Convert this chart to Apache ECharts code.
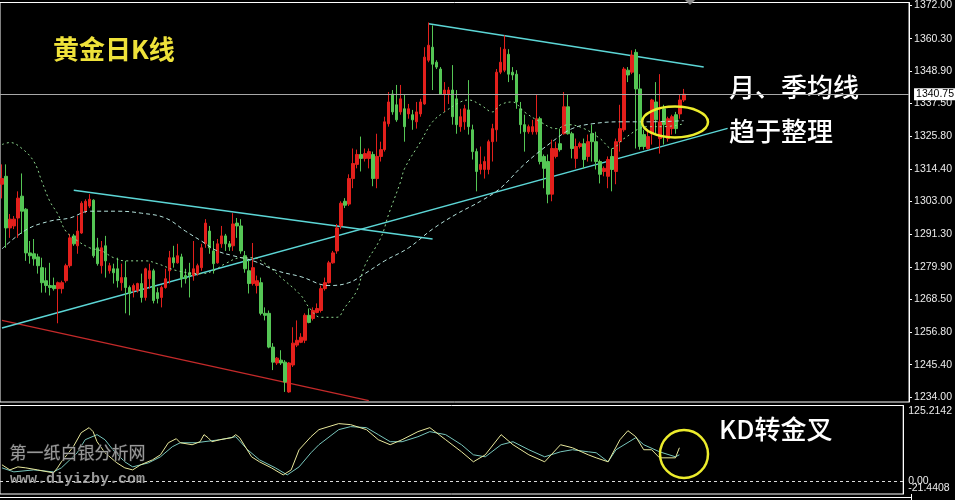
<!DOCTYPE html>
<html><head><meta charset="utf-8">
<script src="https://cdn.jsdelivr.net/npm/echarts@6/dist/echarts.min.js"></script>
<style>html,body{margin:0;padding:0;background:#000}#c{width:955px;height:500px}</style>
</head><body><div id="c"></div>
<script>
// [open, close, low, high]
const candles = [
[1309.0,1311.0,1304.0,1316.0],[1311.8,1293.6,1286.6,1316.0],[1293.6,1296.7,1290.1,1298.5],[1294.3,1296.7,1293.2,1297.8],[1297.1,1304.1,1290.1,1306.5],
[1304.8,1299.5,1291.5,1312.8],[1300.2,1284.8,1282.0,1300.6],[1284.8,1283.8,1281.0,1289.0],[1284.5,1282.7,1280.3,1289.7],[1283.4,1280.3,1277.5,1284.5],
[1279.6,1274.3,1270.8,1283.1],[1275.0,1273.3,1270.8,1279.6],[1273.3,1272.6,1269.8,1281.3],[1273.3,1272.2,1271.5,1276.1],[1272.2,1274.3,1260.0,1274.7],
[1272.2,1274.3,1270.5,1275.0],[1275.0,1280.3,1274.3,1281.0],[1280.3,1290.1,1279.6,1291.5],[1290.8,1288.0,1287.3,1291.5],[1287.3,1292.5,1284.5,1297.8],
[1291.8,1302.3,1291.5,1303.0],[1299.5,1303.0,1298.8,1303.7],[1301.3,1303.7,1300.6,1305.5],[1303.4,1283.8,1283.1,1303.7],[1286.6,1281.0,1280.3,1290.1],
[1280.3,1286.6,1277.5,1289.0],[1287.3,1282.0,1276.1,1290.8],[1278.5,1280.3,1277.5,1281.3],[1279.2,1277.8,1274.0,1281.0],[1279.2,1275.0,1272.6,1283.1],
[1274.3,1276.1,1271.5,1281.0],[1276.1,1272.6,1263.5,1282.0],[1272.6,1270.5,1262.8,1273.3],[1271.5,1273.3,1269.1,1274.0],[1271.5,1274.0,1270.8,1274.3],
[1274.0,1269.1,1267.3,1277.5],[1269.1,1279.2,1268.0,1279.6],[1275.7,1278.5,1272.2,1281.0],[1278.5,1268.0,1267.0,1279.2],[1270.8,1268.7,1267.0,1272.6],
[1269.1,1272.6,1265.6,1273.3],[1272.6,1275.7,1272.2,1279.2],[1278.5,1283.1,1274.0,1285.5],[1283.1,1281.3,1279.6,1287.3],[1281.3,1283.8,1281.0,1288.0],
[1283.4,1275.7,1272.6,1284.5],[1276.8,1275.7,1274.0,1279.2],[1277.8,1276.8,1269.1,1281.3],[1276.8,1279.2,1275.0,1289.0],[1277.5,1280.3,1276.8,1281.0],
[1279.6,1286.6,1278.5,1288.0],[1288.0,1295.3,1286.6,1296.7],[1292.5,1286.6,1284.5,1294.3],[1285.5,1281.0,1277.5,1289.0],[1281.3,1288.0,1281.0,1289.7],
[1288.0,1290.8,1286.6,1294.3],[1290.8,1288.0,1285.5,1291.5],[1288.0,1286.9,1285.5,1289.0],[1287.3,1295.0,1285.5,1298.8],[1295.3,1294.3,1290.1,1297.1],
[1294.3,1285.5,1284.5,1296.7],[1283.8,1279.2,1277.8,1285.5],[1278.5,1274.0,1270.5,1282.7],[1274.0,1279.6,1273.3,1288.3],[1273.3,1275.0,1270.5,1276.8],
[1274.3,1263.5,1262.8,1276.1],[1263.5,1262.8,1261.0,1265.6],[1263.5,1251.6,1251.2,1264.5],[1251.6,1246.3,1243.5,1253.0],[1246.0,1247.7,1245.3,1248.1],
[1247.0,1246.0,1245.3,1250.5],[1246.3,1239.3,1235.8,1247.0],[1235.8,1246.0,1235.5,1246.3],[1245.3,1253.0,1244.6,1258.6],[1252.3,1254.0,1251.6,1261.0],
[1253.3,1255.1,1253.0,1256.5],[1254.0,1262.8,1253.0,1263.5],[1262.8,1260.3,1260.0,1265.2],[1261.7,1264.5,1261.0,1265.6],[1263.8,1265.2,1263.5,1267.0],
[1264.5,1272.2,1263.8,1273.3],[1272.2,1274.3,1271.5,1276.1],[1274.3,1281.3,1274.0,1282.0],[1281.3,1284.8,1281.0,1285.5],[1285.5,1293.6,1284.5,1295.0],
[1294.3,1302.3,1293.2,1303.0],[1303.0,1301.6,1300.6,1304.1],[1302.0,1311.0,1301.3,1312.5],[1311.0,1316.3,1307.6,1321.6],[1316.0,1319.5,1314.6,1321.2],
[1319.5,1318.1,1313.5,1325.8],[1318.1,1319.8,1317.0,1321.6],[1318.1,1320.5,1314.6,1321.6],[1319.5,1311.0,1308.3,1320.5],[1311.0,1318.8,1307.6,1326.8],
[1318.8,1321.2,1317.0,1324.0],[1321.2,1331.0,1320.5,1332.8],[1330.3,1338.0,1329.3,1341.5],[1340.8,1334.5,1333.5,1342.2],[1337.0,1331.7,1331.0,1344.0],
[1334.5,1339.1,1333.5,1344.0],[1335.6,1329.3,1324.0,1340.5],[1333.8,1335.6,1332.1,1337.3],[1333.5,1331.7,1328.2,1335.2],[1331.0,1334.5,1328.6,1338.0],
[1333.8,1338.0,1332.8,1339.1],[1337.3,1353.8,1337.0,1357.3],[1352.7,1358.0,1352.0,1366.0],[1357.3,1351.3,1342.2,1365.0],[1352.0,1350.3,1349.6,1352.7],
[1349.6,1340.8,1340.5,1350.3],[1340.8,1342.2,1334.5,1345.0],[1340.8,1342.2,1337.3,1343.3],[1342.2,1332.8,1330.0,1351.0],[1339.1,1330.0,1326.8,1342.2],
[1329.3,1332.8,1327.5,1335.6],[1331.0,1335.6,1328.2,1337.0],[1335.2,1329.3,1326.5,1345.7],[1328.2,1320.5,1317.7,1330.0],[1320.5,1313.5,1306.5,1321.6],
[1314.2,1316.0,1312.5,1322.3],[1314.2,1317.0,1311.0,1318.8],[1314.2,1324.0,1312.5,1324.7],[1324.0,1328.6,1317.0,1330.3],[1328.2,1348.5,1324.0,1349.6],
[1348.5,1352.0,1347.8,1357.3],[1349.2,1356.6,1348.5,1361.5],[1354.8,1347.8,1345.0,1356.6],[1348.5,1347.5,1345.7,1350.3],[1347.8,1338.0,1335.6,1349.2],
[1335.6,1330.0,1326.8,1338.0],[1330.0,1327.5,1320.5,1333.5],[1327.5,1329.3,1326.8,1330.0],[1327.5,1329.3,1326.5,1331.7],[1327.5,1332.1,1326.5,1340.8],
[1332.1,1317.0,1316.0,1332.8],[1318.8,1314.6,1307.6,1319.5],[1317.0,1305.5,1302.3,1319.5],[1305.5,1321.6,1303.0,1324.7],[1318.8,1321.6,1318.1,1324.0],
[1323.3,1321.2,1320.5,1328.6],[1326.8,1336.3,1326.5,1341.5],[1336.3,1326.8,1326.5,1340.5],[1326.8,1321.6,1318.1,1327.5],[1318.1,1322.3,1314.6,1325.1],
[1322.3,1323.3,1321.6,1324.0],[1323.3,1317.7,1314.6,1325.1],[1318.8,1324.0,1317.0,1326.5],[1326.8,1324.0,1317.0,1330.0],[1324.0,1317.0,1314.2,1327.5],
[1317.0,1312.5,1309.3,1317.7],[1313.5,1314.6,1311.8,1315.3],[1311.8,1317.7,1307.6,1318.8],[1318.8,1314.2,1306.5,1321.6],[1313.5,1324.0,1309.0,1325.1],
[1324.0,1328.6,1320.5,1337.0],[1328.2,1349.6,1327.5,1350.3],[1349.2,1347.5,1345.0,1350.3],[1348.5,1354.5,1347.8,1356.2],[1355.5,1342.6,1321.6,1356.6],
[1342.6,1322.3,1321.2,1347.8],[1326.5,1322.3,1321.2,1328.2],[1321.6,1325.8,1321.2,1328.2],[1326.8,1338.7,1323.0,1339.1],[1338.0,1331.7,1326.5,1345.0],
[1325.1,1331.0,1319.8,1347.8],[1335.6,1330.0,1323.0,1337.0],[1325.1,1332.1,1324.0,1332.8],[1328.6,1332.8,1326.5,1333.5],[1333.5,1328.6,1326.8,1334.5],
[1333.8,1338.7,1332.1,1340.5],[1338.7,1340.75,1338.0,1342.6]
];
// [bar index, value]
const monthlyMA = [[0,1323.0],[2,1323.7],[5,1321.6],[8,1317.0],[10,1310.0],[12,1303.0],[14,1298.5],[16,1292.5],[19,1289.0],[22,1286.6],[25,1285.5],[28,1283.1],[31,1282.0],[36,1282.0],[39,1281.0],[44,1278.5],[50,1277.5],[53,1278.5],[56,1281.0],[60,1283.1],[63,1283.1],[66,1281.0],[70,1276.1],[75,1269.8],[77,1265.6],[80,1262.1],[84,1262.1],[86,1265.6],[89,1271.5],[91,1280.3],[95,1290.1],[97,1298.5],[100,1310.0],[101,1314.6],[105,1324.0],[108,1331.0],[111,1334.5],[115,1338.0],[117,1338.7],[120,1337.0],[123,1334.5],[125,1337.0],[128,1338.0],[131,1334.5],[135,1331.0],[139,1328.6],[142,1330.0],[146,1328.6],[150,1325.1],[153,1321.6],[156,1325.1],[162,1329.3],[166,1329.3],[171,1330.3]];
const quarterlyMA = [[0,1286.2],[6,1292.9],[12,1296.0],[17,1297.1],[22,1299.5],[29,1299.5],[35,1298.8],[41,1297.1],[46,1292.5],[50,1289.0],[54,1285.5],[58,1283.8],[63,1282.0],[69,1278.5],[75,1276.4],[82,1273.3],[87,1274.3],[91,1277.5],[96,1282.0],[102,1286.6],[108,1293.2],[114,1298.5],[120,1303.0],[125,1307.6],[131,1316.0],[138,1324.0],[143,1328.6],[148,1330.3],[155,1331.0],[162,1331.0],[171,1331.4]];
const trendTop = [[107,1365.6],[176,1350.3]];
const trendUpperLeft = [[18,1306.9],[108,1289.7]];
const trendSupport = [[0,1258.3],[182,1328.7]];
const trendRed = [[0,1261.0],[92,1232.7]];
const kLine = [[0,26.9],[2,18.5],[4,23.5],[6,21.9],[9,18.5],[13,13.5],[14,21.9],[15,31.9],[18,56.9],[20,80.2],[22,88.5],[23,81.9],[24,65.2],[26,46.9],[29,30.2],[31,21.9],[33,18.5],[35,26.9],[38,35.2],[40,43.5],[42,63.5],[44,70.2],[45,63.5],[48,60.2],[50,65.2],[51,76.9],[52,71.9],[53,65.2],[55,68.5],[58,71.9],[59,76.9],[60,71.9],[63,40.2],[65,31.9],[68,21.9],[71,10.2],[73,18.5],[75,51.9],[78,73.5],[80,85.2],[85,95.2],[88,93.5],[92,85.2],[95,68.5],[98,60.2],[101,68.5],[105,81.9],[108,88.5],[112,68.5],[116,48.5],[119,31.9],[122,43.5],[126,76.9],[129,60.2],[133,43.5],[137,31.9],[141,60.2],[144,55.2],[148,43.5],[150,38.5],[153,31.9],[156,68.5],[158,83.5],[160,73.5],[162,51.9],[164,51.9],[166,38.5],[170,38.5],[171,55.2]];
const dLine = [[0,21.9],[3,15.2],[8,18.5],[13,15.2],[15,21.9],[19,46.9],[21,68.5],[24,76.9],[26,68.5],[28,51.9],[31,31.9],[33,23.5],[37,30.2],[40,40.2],[43,56.9],[45,63.5],[49,63.5],[51,65.2],[55,68.5],[59,73.5],[62,51.9],[65,35.2],[69,21.9],[72,10.2],[75,23.5],[78,46.9],[80,60.2],[85,85.2],[88,90.2],[92,88.5],[95,76.9],[98,65.2],[101,65.2],[105,73.5],[108,81.9],[112,76.9],[116,60.2],[119,43.5],[122,40.2],[126,60.2],[129,65.2],[133,51.9],[137,40.2],[141,48.5],[144,51.9],[148,48.5],[150,46.9],[153,31.9],[155,51.9],[160,71.9],[162,60.2],[166,48.5],[170,40.2],[171,43.5]];
const priceTicks = [1234.00,1245.40,1256.80,1268.50,1279.90,1291.30,1303.00,1314.40,1325.80,1337.50,1348.90,1360.30,1372.00];
const kdTicks = [-21.4408, 0, 125.2142];
const lastPrice = 1340.75;
const slotCount = 228;
const days = Array.from({length: slotCount}, (_, i) => 'D' + i);

const chart = echarts.init(document.getElementById('c'), null, {renderer: 'canvas'});
const axisFont = {color: '#ececec', fontFamily: 'Liberation Sans', fontSize: 10.5};
const RED = '#e3201c', GREEN = '#55c655';
const fmtKd = v => (v === 0 ? '0.00' : v.toFixed(4));
function trend(data, color, w) {
  return {type: 'line', data: data, symbol: 'none', silent: true, z: 3,
    lineStyle: {color: color, width: w}, xAxisIndex: 0, yAxisIndex: 0};
}
chart.setOption({
  animation: false,
  backgroundColor: '#000',
  grid: [
    {left: -1, right: 43, top: 0, height: 402, show: true, borderColor: '#fff', borderWidth: 1, backgroundColor: 'transparent'},
    {left: -1, right: 43, top: 405.5, height: 88.5, show: true, borderColor: '#fff', borderWidth: 1, backgroundColor: 'transparent'}
  ],
  xAxis: [
    {type: 'category', data: days, gridIndex: 0, boundaryGap: true, show: false},
    {type: 'category', data: days, gridIndex: 1, boundaryGap: true, show: false}
  ],
  yAxis: [
    {type: 'value', gridIndex: 0, position: 'right', min: 1232.25, max: 1373.05, scale: true,
     axisLine: {show: true, lineStyle: {color: '#fff', width: 1}},
     axisTick: {show: true, length: 3, lineStyle: {color: '#fff'}, customValues: priceTicks},
     axisLabel: Object.assign({margin: 5, customValues: priceTicks, formatter: v => v.toFixed(2)}, axisFont),
     splitLine: {show: false}},
    {type: 'value', gridIndex: 1, position: 'right', min: -21.4408, max: 125.2142,
     axisLine: {show: true, lineStyle: {color: '#fff', width: 1}},
     axisTick: {show: false},
     axisLabel: Object.assign({margin: 5, customValues: kdTicks.filter(v => v !== 0), showMinLabel: true, showMaxLabel: true, hideOverlap: false,
       verticalAlignMinLabel: 'bottom', verticalAlignMaxLabel: 'top', formatter: fmtKd}, axisFont),
     splitLine: {show: false}}
  ],
  series: [
    trend(trendRed, '#c42a2a', 1.3),
    trend(trendSupport, '#5cd6d6', 1.5),
    trend(trendUpperLeft, '#5cd6d6', 1.5),
    trend(trendTop, '#5cd6d6', 1.5),
    {type: 'candlestick', data: candles, xAxisIndex: 0, yAxisIndex: 0, barWidth: 3, z: 4,
     itemStyle: {color: RED, color0: GREEN, borderColor: RED, borderColor0: GREEN, borderWidth: 1},
     markLine: {symbol: 'none', silent: true, animation: false,
       lineStyle: {color: '#a8a8a8', width: 1, type: 'solid'},
       label: {show: true, position: 'end', distance: 5, formatter: () => lastPrice.toFixed(2),
         backgroundColor: '#fff', color: '#000', fontFamily: 'Liberation Sans', fontSize: 10.5, padding: [1, 2, 0, 2]},
       data: [{yAxis: lastPrice}]}},
    {type: 'line', data: quarterlyMA, smooth: 0.4, symbol: 'none', silent: true, z: 5, xAxisIndex: 0, yAxisIndex: 0,
     lineStyle: {color: '#b4e2dc', width: 1, type: [4, 3]}},
    {type: 'line', data: monthlyMA, smooth: 0.4, symbol: 'none', silent: true, z: 5, xAxisIndex: 0, yAxisIndex: 0,
     lineStyle: {color: '#8fd88f', width: 1, type: [2, 3]}},
    {type: 'line', data: dLine, symbol: 'none', silent: true, xAxisIndex: 1, yAxisIndex: 1,
     lineStyle: {color: '#78c6bc', width: 1},
     markLine: {symbol: 'none', silent: true,
       label: {show: true, position: 'end', distance: 5, formatter: () => fmtKd(kdTicks[1]), color: '#ececec', fontFamily: 'Liberation Sans', fontSize: 10.5},
       lineStyle: {color: '#dddddd', width: 1, type: [3, 3]}, data: [{yAxis: kdTicks[1]}]}},
    {type: 'line', data: kLine, symbol: 'none', silent: true, xAxisIndex: 1, yAxisIndex: 1,
     lineStyle: {color: '#e8e89c', width: 1}}
  ],
  graphic: [
    {type: 'text', left: 53, top: 36, style: {text: '黄金日K线', fill: '#efe23a', font: 'bold 26px "Noto Sans CJK SC"'}},
    {type: 'text', left: 729, top: 74, style: {text: '月、季均线', fill: '#ffffff', font: '500 26px "Noto Sans CJK SC"'}},
    {type: 'text', left: 729, top: 118, style: {text: '趋于整理', fill: '#ffffff', font: '500 26px "Noto Sans CJK SC"'}},
    {type: 'text', left: 719, top: 416, style: {text: 'KD转金叉', fill: '#ffffff', font: '500 26px "Noto Sans CJK SC"'}},
    {type: 'text', left: 9, top: 444, z: 100, style: {text: '第一纸白银分析网', fill: 'rgba(175,175,175,0.85)', stroke: 'rgba(40,40,40,0.9)', lineWidth: 1, font: '17px "Noto Sans CJK SC"'}},
    {type: 'text', left: 10, top: 472, z: 100, style: {text: 'www.diyizby.com', fill: 'rgba(180,180,180,0.85)', font: 'bold 15px "Liberation Mono"'}},
    {type: 'ellipse', z: 100, shape: {cx: 675, cy: 122, rx: 33, ry: 15.5}, style: {fill: 'none', stroke: '#ecec2c', lineWidth: 2.5}},
    {type: 'ellipse', z: 100, shape: {cx: 684, cy: 454, rx: 24, ry: 24}, style: {fill: 'none', stroke: '#ecec2c', lineWidth: 2.5}},
    {type: 'polygon', z: 100, shape: {points: [[685, 0], [695, 0], [690, 5]]}, style: {fill: '#8a8a8a'}},
    {type: 'line', z: 100, shape: {x1: 0, y1: 497.5, x2: 912, y2: 497.5}, style: {stroke: '#fff', lineWidth: 1}},
    {type: 'line', z: 100, shape: {x1: 911.5, y1: 494, x2: 911.5, y2: 500}, style: {stroke: '#fff', lineWidth: 1}}
  ]
});
</script></body></html>
